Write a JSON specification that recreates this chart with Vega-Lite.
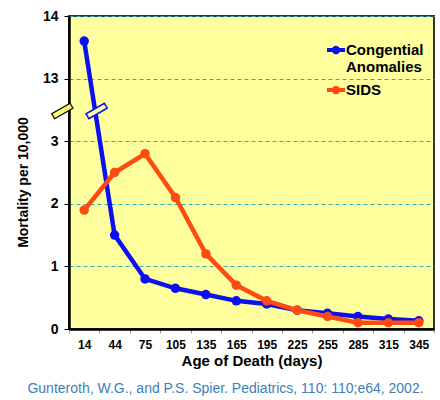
{
  "$schema": "https://vega.github.io/schema/vega-lite/v6.json",
  "width": 365,
  "height": 313,
  "autosize": "none",
  "padding": {"left": 69, "top": 16, "right": 6, "bottom": 71},
  "background": "white",
  "config": {
    "font": "Liberation Sans",
    "view": {"fill": "#FFFF9E", "stroke": "#333333", "strokeWidth": 2}
  },
  "title": {
    "text": "Gunteroth, W.G., and P.S. Spier.  Pediatrics, 110: 110;e64, 2002.",
    "orient": "bottom",
    "anchor": "middle",
    "fontSize": 14,
    "fontWeight": "normal",
    "color": "#3E7EB8",
    "offset": 14,
    "dx": -26
  },
  "datasets": {
    "series": [
      {"age": 14, "series": "Congential Anomalies", "value": 13.6},
      {"age": 44, "series": "Congential Anomalies", "value": 1.5},
      {"age": 75, "series": "Congential Anomalies", "value": 0.8},
      {"age": 105, "series": "Congential Anomalies", "value": 0.65},
      {"age": 135, "series": "Congential Anomalies", "value": 0.55},
      {"age": 165, "series": "Congential Anomalies", "value": 0.45},
      {"age": 195, "series": "Congential Anomalies", "value": 0.4},
      {"age": 225, "series": "Congential Anomalies", "value": 0.3},
      {"age": 255, "series": "Congential Anomalies", "value": 0.25},
      {"age": 285, "series": "Congential Anomalies", "value": 0.2},
      {"age": 315, "series": "Congential Anomalies", "value": 0.16},
      {"age": 345, "series": "Congential Anomalies", "value": 0.13},
      {"age": 14, "series": "SIDS", "value": 1.9},
      {"age": 44, "series": "SIDS", "value": 2.5},
      {"age": 75, "series": "SIDS", "value": 2.8},
      {"age": 105, "series": "SIDS", "value": 2.1},
      {"age": 135, "series": "SIDS", "value": 1.2},
      {"age": 165, "series": "SIDS", "value": 0.7},
      {"age": 195, "series": "SIDS", "value": 0.45},
      {"age": 225, "series": "SIDS", "value": 0.3},
      {"age": 255, "series": "SIDS", "value": 0.2},
      {"age": 285, "series": "SIDS", "value": 0.1},
      {"age": 315, "series": "SIDS", "value": 0.1},
      {"age": 345, "series": "SIDS", "value": 0.1}
    ],
    "breaks": [
      {"age": 14, "value": 7.6, "kind": "axis"},
      {"age": 14, "value": 7.6, "kind": "line"}
    ]
  },
  "encoding": {
    "x": {
      "field": "age",
      "type": "ordinal",
      "scale": {"type": "band", "paddingInner": 0, "paddingOuter": 0},
      "axis": {
        "title": "Age of Death (days)",
        "titleFontSize": 15,
        "titleFontWeight": "bold",
        "titleColor": "#000000",
        "titlePadding": 3,
        "labelAngle": 0,
        "labelFontSize": 12,
        "labelFontWeight": "bold",
        "labelColor": "#000000",
        "labelPadding": 6,
        "tickBand": "extent",
        "tickSize": 4,
        "tickColor": "#999999",
        "domainColor": "#000000",
        "domainWidth": 2.5,
        "grid": false
      }
    },
    "y": {
      "field": "value",
      "type": "quantitative",
      "scale": {"domain": [0, 3, 13, 14], "range": [313, 125.2, 62.6, 0]},
      "axis": {
        "title": "Mortality per 10,000",
        "titleFontSize": 14,
        "titleFontWeight": "bold",
        "titleColor": "#000000",
        "titlePadding": 12,
        "titleY": 166,
        "values": [0, 1, 2, 3, 13, 14],
        "labelFontSize": 14,
        "labelFontWeight": "bold",
        "labelColor": "#000000",
        "labelPadding": 6,
        "tickSize": 5,
        "tickColor": "#000000",
        "domainColor": "#000000",
        "domainWidth": 2.5,
        "grid": true,
        "gridColor": "#2BAFB8",
        "gridDash": [4, 3],
        "gridWidth": 1
      }
    }
  },
  "layer": [
    {
      "data": {"name": "series"},
      "transform": [{"filter": "datum.series == 'Congential Anomalies'"}],
      "mark": {"type": "line", "strokeWidth": 4.5, "point": {"filled": true, "size": 90}},
      "encoding": {
        "color": {
          "field": "series",
          "type": "nominal",
          "scale": {"domain": ["Congential Anomalies", "SIDS"], "range": ["#0A10F0", "#FF4A10"]},
          "legend": {
            "orient": "none",
            "legendX": 258,
            "legendY": 25,
            "title": null,
            "symbolType": "M-1,-0.22L-0.4,-0.22A0.44,0.44 0 0 1 0.4,-0.22L1,-0.22L1,0.22L0.4,0.22A0.44,0.44 0 0 1 -0.4,0.22L-1,0.22Z",
            "symbolSize": 324,
            "symbolStrokeWidth": 0,
            "labelFontSize": 15,
            "labelFontWeight": "bold",
            "labelColor": "#000000",
            "labelOffset": 1,
            "labelExpr": "datum.label == 'Congential Anomalies' ? ['Congential', 'Anomalies'] : datum.label",
            "rowPadding": 6,
            "encode": {
              "symbols": {"update": {"fill": {"scale": "color", "field": "value"}, "opacity": {"value": 1}}},
              "labels": {"update": {"lineHeight": {"value": 17}}}
            }
          }
        }
      }
    },
    {
      "data": {"name": "series"},
      "transform": [{"filter": "datum.series == 'SIDS'"}],
      "mark": {"type": "line", "strokeWidth": 4.5, "point": {"filled": true, "size": 90, "color": "#F8781E"}},
      "encoding": {
        "color": {"field": "series", "type": "nominal"}
      }
    },
    {
      "data": {"name": "breaks"},
      "transform": [{"filter": "datum.kind == 'axis'"}],
      "mark": {
        "type": "text",
        "text": "━",
        "font": "DejaVu Sans Mono",
        "fontSize": 34,
        "angle": -30,
        "align": "center",
        "baseline": "middle",
        "fill": "#FFFF70",
        "stroke": "#000000",
        "strokeWidth": 1.2,
        "dx": -18.2,
        "dy": -10.5
      }
    },
    {
      "data": {"name": "breaks"},
      "transform": [{"filter": "datum.kind == 'line'"}],
      "mark": {
        "type": "text",
        "text": "━",
        "font": "DejaVu Sans Mono",
        "fontSize": 34,
        "angle": -30,
        "align": "center",
        "baseline": "middle",
        "fill": "#FFFF9E",
        "stroke": "#0A10F0",
        "strokeWidth": 1.5,
        "dx": 11.3,
        "dy": 6.5
      }
    }
  ]
}
